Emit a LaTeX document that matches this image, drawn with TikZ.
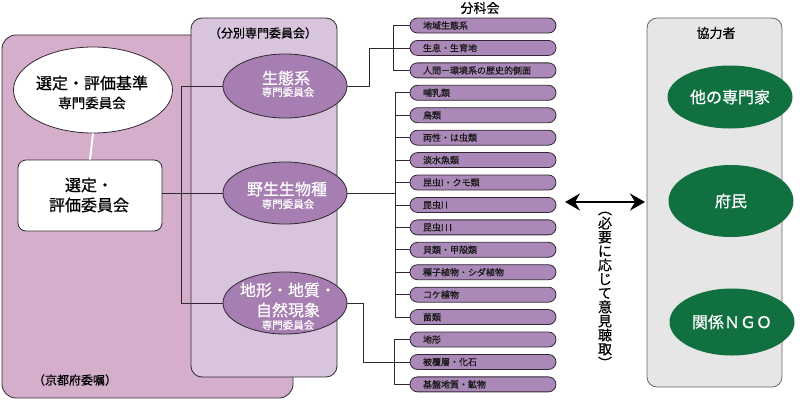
\documentclass[tikz,border=0pt]{standalone}
\usepackage{fontspec}
\setmainfont{Noto Sans CJK JP}
\newfontfamily\jpm[FakeBold=0.6]{Noto Sans CJK JP}
\usetikzlibrary{arrows.meta,shapes.geometric,calc}
\definecolor{outerpink}{RGB}{212,174,203}
\definecolor{innerlilac}{RGB}{216,197,221}
\definecolor{ellpurple}{RGB}{166,126,178}
\definecolor{itempurple}{RGB}{170,136,184}
\definecolor{darkline}{RGB}{50,40,50}
\definecolor{kgreen}{RGB}{16,112,64}
\definecolor{kgray}{RGB}{230,230,230}
\tikzset{
  fs/.style={font=\jpm\fontsize{#1}{#1}\selectfont},
  panel/.style={draw=darkline, line width=0.8pt, rounded corners=#1},
  purpleell/.style={ellipse, fill=ellpurple, draw=darkline, line width=0.8pt,
     minimum width=124pt, minimum height=64pt, inner sep=0pt},
  wtxt/.style={fs=#1, text=white, inner sep=0pt},
  btxt/.style={fs=#1, text=black, inner sep=0pt},
  greenell/.style={ellipse, fill=kgreen, minimum width=125pt, minimum height=66pt,
     inner sep=0pt, text=white, fs=16},
  item/.style={rectangle, rounded corners=7.5pt, fill=itempurple, draw=darkline,
     line width=0.8pt, minimum height=15pt, text width=120pt, inner xsep=13pt,
     inner ysep=0pt, align=left, text=black!90, fs=9},
  conn/.style={draw=darkline, line width=0.8pt},
}
\begin{document}
\begin{tikzpicture}[x=1pt,y=-1pt]
\useasboundingbox (0,0) rectangle (800,400);
% panels
\node[panel=14pt, fill=outerpink, minimum width=291pt, minimum height=363pt, inner sep=0pt] (outer) at (147.5,216.5) {};
\node[panel=11pt, fill=innerlilac, minimum width=146pt, minimum height=359pt, inner sep=0pt] (inner) at (264,197.5) {};
\node[panel=10pt, draw=black!60, fill=kgray, minimum width=135pt, minimum height=369pt, inner sep=0pt] (kyo) at (714.5,202.5) {};
% labels
\node[btxt=12] (lblkyoto) at (75,380) {（京都府委嘱）};
\node[btxt=12] (lblbunbetsu) at (263,33) {（分別専門委員会）};
\node[btxt=13] (lblbunka) at (480,8) {分科会};
\node[btxt=13] (lblkyoryoku) at (716,33) {協力者};
% left nodes
\node[ellipse, fill=white, draw=darkline, line width=0.8pt, minimum width=159pt, minimum height=86pt, inner sep=0pt] (kijun) at (93,90) {};
\node[btxt=16] (kijunA) at (92,83) {選定・評価基準};
\node[btxt=13.5] (kijunB) at (92,103) {専門委員会};
\node[rectangle, rounded corners=8pt, fill=white, draw=darkline, line width=0.8pt, minimum width=144pt, minimum height=71pt, inner sep=0pt] (hyoka) at (90,195.5) {};
\node[btxt=16] (hyokaA) at (89,185) {選定・};
\node[btxt=16] (hyokaB) at (89,205) {評価委員会};
\draw[white, line width=2pt] (kijun.south) -- (hyoka.north);
% committee ellipses
\node[purpleell] (seitai) at (285,86) {};
\node[wtxt=16] (seitaiA) at (286,78) {生態系};
\node[wtxt=10.5] (seitaiB) at (288,92) {専門委員会};
\node[purpleell, minimum height=62pt] (yasei) at (285,193) {};
\node[wtxt=16] (yaseiA) at (287,189) {野生生物種};
\node[wtxt=10.5] (yaseiB) at (288,204) {専門委員会};
\node[purpleell, minimum height=62pt] (chikei) at (285,303) {};
\node[wtxt=16] (chikeiA) at (288,290) {地形・地質・};
\node[wtxt=16] (chikeiB) at (288,310) {自然現象};
\node[wtxt=10.5] (chikeiC) at (288,325) {専門委員会};
% items
\foreach \n/\t [count=\i from 0] in {
  i1/地域生態系, i2/生息・生育地, i3/人間－環境系の歴史的側面,
  i4/哺乳類, i5/鳥類, i6/両性・は虫類, i7/淡水魚類, i8/昆虫I・クモ類,
  i9/昆虫I\,I, i10/昆虫I\,I\,I, i11/貝類・甲殻類, i12/種子植物・シダ植物,
  i13/コケ植物, i14/菌類, i15/地形, i16/被覆層・化石, i17/基盤地質・鉱物}
  \node[item] (\n) at (483,25.5+22.43*\i) {\t};
% connectors left
\draw[conn] (hyoka.east |- yasei.west) -- (yasei.west);
\draw[conn] (seitai.west) -- ++(-41,0) |- (chikei.west);
% group 1
\coordinate (b1) at ($(i2.west)+(-16,0)$);
\draw[conn] (i1.west) -- ++(-16,0) |- (i3.west);
\draw[conn] (i2.west) -- (b1);
\draw[conn] (seitai.east) -- ++(22,0) |- (b1);
% group 2
\coordinate (b2) at ($(i4.west)+(-14,0)$);
\draw[conn] (i4.west) -- (b2) |- (i14.west);
\foreach \n in {i5,i6,i7,i8,i9,i10,i11,i12,i13}
  \draw[conn] (\n.west) -- ++(-14,0);
\draw[conn] (yasei.east) -- (b2 |- yasei.east);
% group 3
\coordinate (b3) at ($(i16.west)+(-15,0)$);
\draw[conn] (i15.west) -- ++(-15,0) |- (i17.west);
\draw[conn] (i16.west) -- (b3);
\draw[conn] (chikei.east) -- ++(16,0) |- (b3);
% arrow
\coordinate (aL) at (565,202);
\coordinate (aR) at (645,202);
\draw[{Stealth[length=15pt,width=17pt,inset=5pt]}-{Stealth[length=15pt,width=17pt,inset=5pt]}, line width=2pt] (aL) -- (aR);
\node[align=center, inner sep=0pt, font=\jpm\fontsize{14}{14}\selectfont] (vtext) at (605,290)
  {︵\\必\\要\\に\\応\\じ\\て\\意\\見\\聴\\取\\︶};
% green ellipses
\node[greenell, minimum height=63pt] (senmon) at (730,97) {他の専門家};
\node[greenell, minimum height=72pt] (fumin) at (731,201) {府民};
\node[greenell, minimum height=67pt] (ngo) at (732,322) {関係ＮＧＯ};
\end{tikzpicture}
\end{document}
